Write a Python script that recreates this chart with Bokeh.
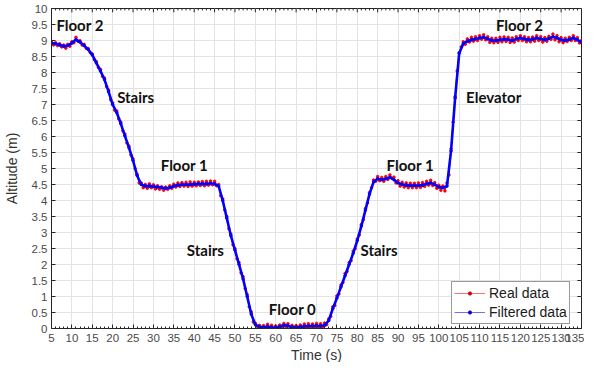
import numpy as np
from bokeh.plotting import figure
from bokeh.models import (FixedTicker, Legend, LegendItem, Range1d, Title,
                          CustomJSTickFormatter, ColumnDataSource)
from bokeh.core.properties import value
from bokeh.embed import file_html
from bokeh.resources import INLINE

# ---------------- data ----------------
# Filtered altitude, sampled every 1 s from t = 5 s to t = 135 s
filtered_start, filtered_step = 5.0, 1.0
filtered_alt = [
    8.92, 8.90, 8.86, 8.82, 8.84, 8.92, 9.03, 8.95, 8.84, 8.72,   # 5-14
    8.55, 8.30, 8.05, 7.78, 7.40, 7.00, 6.75, 6.40, 6.02, 5.65,   # 15-24
    5.25, 4.78, 4.50, 4.45, 4.45, 4.44, 4.42, 4.40, 4.38, 4.40,   # 25-34
    4.45, 4.48, 4.50, 4.50, 4.50, 4.51, 4.52, 4.52, 4.52, 4.53,   # 35-44
    4.52, 4.45, 4.00, 3.45, 2.90, 2.45, 2.00, 1.55, 1.00, 0.45,   # 45-54
    0.12, 0.05, 0.04, 0.06, 0.04, 0.02, 0.06, 0.10, 0.09, 0.05,   # 55-64
    0.04, 0.05, 0.07, 0.08, 0.08, 0.09, 0.08, 0.10, 0.25, 0.62,   # 65-74
    0.95, 1.30, 1.65, 2.00, 2.35, 2.75, 3.20, 3.70, 4.20, 4.58,   # 75-84
    4.68, 4.65, 4.68, 4.72, 4.65, 4.55, 4.50, 4.48, 4.47, 4.47,   # 85-94
    4.47, 4.48, 4.52, 4.55, 4.50, 4.42, 4.40, 4.45, 5.55, 7.20,   # 95-104
    8.60, 8.90, 8.98, 9.02, 9.05, 9.08, 9.10, 9.05, 9.00, 9.00,   # 105-114
    9.02, 9.04, 9.03, 9.00, 9.05, 9.08, 9.05, 9.02, 9.04, 9.08,   # 115-124
    9.05, 9.02, 9.06, 9.12, 9.08, 9.02, 9.00, 9.03, 9.08, 9.02,   # 125-134
    8.95,                                                          # 135
]

# Raw (real) altitude, sampled every 0.5 s from t = 5 s to t = 135 s
real_start, real_step = 5.0, 0.5
real_alt = [
    8.95, 8.86, 8.93, 8.84, 8.90, 8.80, 8.86, 8.76, 8.88, 8.82,   # 5.0-9.5
    8.96, 8.93, 9.10, 8.98, 8.99, 8.86, 8.88, 8.76, 8.75, 8.62,   # 10.0-14.5
    8.58, 8.40, 8.34, 8.16, 8.10, 7.88, 7.83, 7.56, 7.45, 7.15,   # 15.0-19.5
    7.05, 6.82, 6.80, 6.55, 6.45, 6.18, 6.08, 5.80, 5.70, 5.42,   # 20.0-24.5
    5.30, 5.00, 4.82, 4.55, 4.55, 4.40, 4.50, 4.38, 4.52, 4.40,   # 25.0-29.5
    4.49, 4.36, 4.46, 4.35, 4.43, 4.32, 4.42, 4.35, 4.46, 4.38,   # 30.0-34.5
    4.51, 4.42, 4.55, 4.44, 4.56, 4.45, 4.57, 4.44, 4.58, 4.45,   # 35.0-39.5
    4.57, 4.46, 4.58, 4.47, 4.59, 4.46, 4.60, 4.48, 4.61, 4.49,   # 40.0-44.5
    4.60, 4.46, 4.50, 4.15, 4.05, 3.70, 3.50, 3.12, 2.95, 2.62,   # 45.0-49.5
    2.50, 2.18, 2.06, 1.74, 1.62, 1.25, 1.06, 0.68, 0.52, 0.20,   # 50.0-54.5
    0.16, -0.02, 0.10, -0.03, 0.09, -0.04, 0.13, 0.00, 0.10, -0.03,  # 55.0-59.5
    0.08, -0.04, 0.11, 0.04, 0.16, 0.05, 0.15, 0.02, 0.10, -0.02,  # 60.0-64.5
    0.09, -0.03, 0.11, 0.00, 0.14, 0.02, 0.15, 0.03, 0.14, 0.02,   # 65.0-69.5
    0.16, 0.03, 0.15, 0.04, 0.17, 0.12, 0.30, 0.38, 0.68, 0.72,   # 70.0-74.5
    1.02, 1.08, 1.36, 1.44, 1.72, 1.78, 2.06, 2.12, 2.42, 2.50,   # 75.0-79.5
    2.80, 2.92, 3.25, 3.40, 3.75, 3.92, 4.25, 4.40, 4.64, 4.60,   # 80.0-84.5
    4.75, 4.62, 4.72, 4.60, 4.75, 4.66, 4.80, 4.70, 4.73, 4.55,   # 85.0-89.5
    4.62, 4.45, 4.57, 4.42, 4.55, 4.40, 4.54, 4.40, 4.54, 4.40,   # 90.0-94.5
    4.55, 4.41, 4.56, 4.44, 4.60, 4.48, 4.63, 4.47, 4.56, 4.38,   # 95.0-99.5
    4.48, 4.32, 4.45, 4.30, 4.55, 4.80, 5.62, 6.45, 7.25, 8.05,   # 100.0-104.5
    8.62, 8.80, 8.96, 8.88, 9.05, 8.95, 9.10, 8.98, 9.12, 9.00,   # 105.0-109.5
    9.15, 9.04, 9.18, 9.02, 9.12, 8.94, 9.07, 8.93, 9.07, 8.94,   # 110.0-114.5
    9.10, 8.96, 9.11, 8.97, 9.10, 8.94, 9.08, 8.95, 9.12, 9.00,   # 115.0-119.5
    9.15, 9.00, 9.12, 8.96, 9.09, 8.96, 9.11, 8.98, 9.15, 9.00,   # 120.0-124.5
    9.12, 8.95, 9.09, 8.98, 9.13, 9.04, 9.20, 9.02, 9.15, 8.96,   # 125.0-129.5
    9.09, 8.93, 9.07, 8.97, 9.10, 9.00, 9.15, 9.00, 9.09, 8.92,   # 130.0-134.5
    9.00,                                                          # 135.0
]

# Annotations
note_text = ["Floor 2", "Stairs", "Floor 1", "Stairs", "Floor 0",
             "Stairs", "Floor 1", "Elevator", "Floor 2"]
note_x = [6.2, 21.1, 31.8, 38.2, 58.3, 80.8, 87.2, 106.7, 114.0]
note_y = [9.5, 7.22, 5.12, 2.44, 0.62, 2.44, 5.12, 7.22, 9.5]

x_ticks = list(range(5, 136, 5))
x_minor = [v for v in range(5, 136) if v % 5 != 0]
y_ticks = [i * 0.5 for i in range(0, 21)]

series_names = ["Real data", "Filtered data"]
x_title = "Time (s)"
y_title = "Altitude (m)"

X_MIN, X_MAX, Y_MIN, Y_MAX = 5, 135, 0, 10

# ---------------- figure ----------------
t_filtered = filtered_start + filtered_step * np.arange(len(filtered_alt))
t_real = real_start + real_step * np.arange(len(real_alt))

p = figure(width=584, height=362, output_backend="svg", toolbar_location=None,
           x_range=Range1d(X_MIN, X_MAX), y_range=Range1d(Y_MIN, Y_MAX),
           min_border_left=0, min_border_right=3, min_border_top=8,
           min_border_bottom=0, y_axis_label=y_title)
p.background_fill_color = "white"
p.border_fill_color = "white"
p.outline_line_color = "#262626"
p.outline_line_width = 1

xt = FixedTicker(ticks=x_ticks, minor_ticks=x_minor)
yt = FixedTicker(ticks=y_ticks, minor_ticks=[])
fmt = CustomJSTickFormatter(code="return String(tick);")

for ax in (p.xaxis[0], p.yaxis[0]):
    ax.formatter = fmt
    ax.major_tick_in = 4
    ax.major_tick_out = 0
    ax.minor_tick_in = 2
    ax.minor_tick_out = 0
    ax.axis_line_color = "#262626"
    ax.major_tick_line_color = "#262626"
    ax.minor_tick_line_color = "#262626"
    ax.major_label_text_font = "Liberation Sans"
    ax.major_label_text_font_size = "11.5px"
    ax.major_label_text_color = "#4a4a4a"
    ax.axis_label_text_font = "Liberation Sans"
    ax.axis_label_text_font_style = "normal"
    ax.axis_label_text_color = "#333333"
    ax.axis_label_text_font_size = "14px"
p.xaxis[0].ticker = xt
p.yaxis[0].ticker = yt
p.xaxis[0].major_label_standoff = 5
p.yaxis[0].major_label_standoff = 4
p.yaxis[0].axis_label_standoff = 9

p.xgrid.ticker = xt
p.ygrid.ticker = yt
p.xgrid.grid_line_color = "#e3e3e3"
p.ygrid.grid_line_color = "#e3e3e3"

# x-axis title as a title below the axis
p.add_layout(Title(text=x_title, align="center", text_font="Liberation Sans",
                   text_font_size="14px", text_font_style="normal",
                   text_color="#333333", standoff=0, offset=0), "below")

# mirrored ticks on the top and right edges of the box (MATLAB style)
p.segment(x0=x_ticks, y0=[Y_MAX] * len(x_ticks), x1=x_ticks,
          y1=[Y_MAX - 0.12] * len(x_ticks), line_color="#262626", line_width=1)
p.segment(x0=x_minor, y0=[Y_MAX] * len(x_minor), x1=x_minor,
          y1=[Y_MAX - 0.06] * len(x_minor), line_color="#262626", line_width=1)
p.segment(x0=[X_MAX] * len(y_ticks), y0=y_ticks, x1=[X_MAX - 1.0] * len(y_ticks),
          y1=y_ticks, line_color="#262626", line_width=1)

src_r = ColumnDataSource(dict(t=t_real, a=real_alt))
src_f = ColumnDataSource(dict(t=t_filtered, a=filtered_alt))
p.line("t", "a", source=src_r, line_color="#ff0000", line_width=1.2)
p.scatter("t", "a", source=src_r, size=2.5, color="#ff0000")
p.line("t", "a", source=src_f, line_color="#0000ff", line_width=2.6)
p.scatter("t", "a", source=src_f, size=2.5, color="#0000ff")

p.text(x=note_x, y=note_y, text=note_text, text_font=value("Lato"),
       text_font_style="bold", text_font_size="15px", text_color="#111111",
       text_align="left", text_baseline="middle")

# legend glyphs (thin line with a small dot, as in the reference key)
nan = [float("nan")]
lg_r_line = p.line(nan, nan, line_color="#ff7070", line_width=1)
lg_r_dot = p.scatter(nan, nan, size=3, color="#cc0000")
lg_f_line = p.line(nan, nan, line_color="#7070ff", line_width=1)
lg_f_dot = p.scatter(nan, nan, size=3, color="#0000cc")

legend = Legend(items=[LegendItem(label=series_names[0], renderers=[lg_r_line, lg_r_dot]),
                       LegendItem(label=series_names[1], renderers=[lg_f_line, lg_f_dot])],
                location=(400, 4), label_text_font="Liberation Sans",
                label_text_font_size="14px", label_text_color="#1a1a1a",
                glyph_width=31, glyph_height=8, spacing=1, padding=2,
                label_standoff=4, border_line_color="#333333",
                background_fill_alpha=1.0, label_height=18, margin=0)
p.add_layout(legend, "center")

open("out.html", "w").write(file_html(p, INLINE))
